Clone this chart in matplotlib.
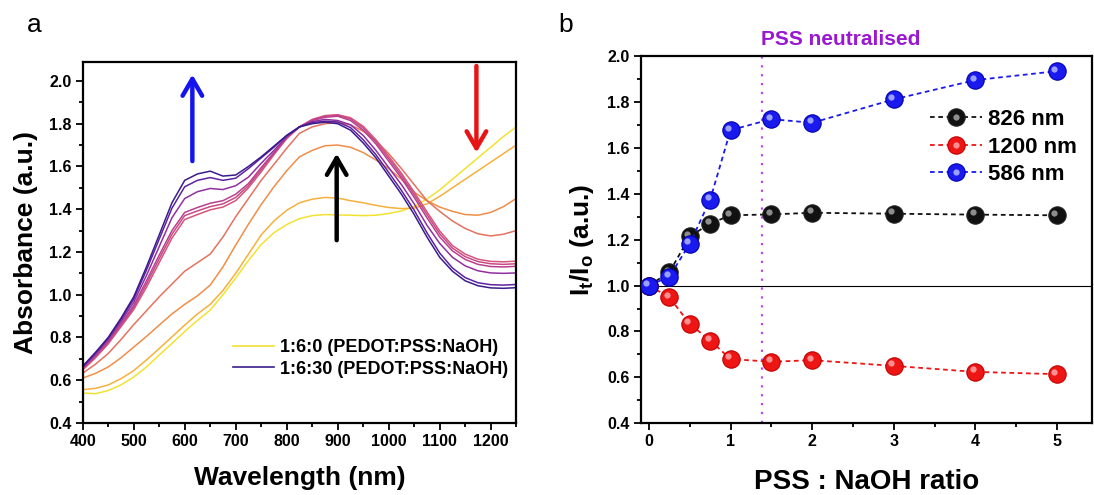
import matplotlib
matplotlib.use('Agg')
import matplotlib.pyplot as plt
import matplotlib.transforms as mtransforms
from matplotlib.ticker import MultipleLocator, FormatStrFormatter
from matplotlib.lines import Line2D
from matplotlib.legend_handler import HandlerTuple

plt.rcParams['font.family'] = ['Liberation Sans', 'DejaVu Sans']
plt.rcParams['font.weight'] = 'bold'
plt.rcParams['mathtext.fontset'] = 'custom'
plt.rcParams['mathtext.rm'] = 'Liberation Sans:bold'
plt.rcParams['mathtext.it'] = 'Liberation Sans:bold'
plt.rcParams['mathtext.bf'] = 'Liberation Sans:bold'

# ---------------- data: panel a ----------------
wavelength = [400, 425, 450, 475, 500, 525, 550, 575, 600, 625, 650, 675, 700, 725,
              750, 775, 800, 825, 850, 875, 900, 925, 950, 975, 1000, 1025, 1050,
              1075, 1100, 1125, 1150, 1175, 1200, 1225, 1250]

spec_01 = [0.540, 0.537, 0.552, 0.578, 0.615, 0.662, 0.718, 0.772, 0.828, 0.880, 0.928, 1.000,
           1.078, 1.160, 1.235, 1.290, 1.328, 1.356, 1.370, 1.375, 1.373, 1.372, 1.370, 1.372,
           1.380, 1.392, 1.413, 1.448, 1.490, 1.540, 1.590, 1.640, 1.690, 1.740, 1.785]
spec_02 = [0.556, 0.562, 0.578, 0.607, 0.645, 0.695, 0.748, 0.803, 0.858, 0.910, 0.955, 1.020,
           1.100, 1.190, 1.280, 1.345, 1.395, 1.430, 1.447, 1.455, 1.452, 1.440, 1.430, 1.418,
           1.408, 1.403, 1.405, 1.425, 1.460, 1.500, 1.540, 1.580, 1.620, 1.660, 1.700]
spec_03 = [0.610, 0.632, 0.662, 0.705, 0.755, 0.805, 0.858, 0.910, 0.955, 0.995, 1.045, 1.130,
           1.232, 1.330, 1.422, 1.505, 1.580, 1.645, 1.675, 1.697, 1.700, 1.690, 1.665, 1.630,
           1.590, 1.540, 1.480, 1.440, 1.410, 1.390, 1.375, 1.372, 1.385, 1.412, 1.450]
spec_04 = [0.633, 0.675, 0.725, 0.790, 0.860, 0.925, 0.990, 1.050, 1.110, 1.150, 1.190, 1.270,
           1.365, 1.450, 1.535, 1.610, 1.685, 1.755, 1.785, 1.800, 1.805, 1.795, 1.765, 1.720,
           1.660, 1.590, 1.515, 1.440, 1.390, 1.345, 1.310, 1.285, 1.275, 1.283, 1.300]
spec_05 = [0.648, 0.705, 0.770, 0.850, 0.930, 1.035, 1.150, 1.265, 1.352, 1.375, 1.397, 1.410,
           1.440, 1.500, 1.575, 1.655, 1.730, 1.785, 1.820, 1.838, 1.842, 1.828, 1.788, 1.725,
           1.648, 1.568, 1.480, 1.388, 1.298, 1.230, 1.190, 1.166, 1.156, 1.154, 1.157]
spec_06 = [0.652, 0.710, 0.776, 0.857, 0.940, 1.050, 1.168, 1.283, 1.370, 1.392, 1.412, 1.425,
           1.455, 1.510, 1.585, 1.660, 1.735, 1.785, 1.818, 1.835, 1.840, 1.822, 1.780, 1.715,
           1.637, 1.557, 1.468, 1.375, 1.285, 1.218, 1.178, 1.155, 1.145, 1.142, 1.145]
spec_07 = [0.655, 0.715, 0.782, 0.865, 0.950, 1.065, 1.185, 1.300, 1.385, 1.408, 1.428, 1.440,
           1.470, 1.520, 1.595, 1.665, 1.735, 1.785, 1.815, 1.830, 1.835, 1.815, 1.770, 1.705,
           1.625, 1.545, 1.455, 1.360, 1.270, 1.205, 1.165, 1.142, 1.132, 1.130, 1.133]
spec_08 = [0.660, 0.722, 0.790, 0.875, 0.965, 1.090, 1.225, 1.360, 1.450, 1.482, 1.497, 1.492,
           1.510, 1.550, 1.615, 1.675, 1.740, 1.785, 1.810, 1.820, 1.815, 1.795, 1.745, 1.675,
           1.595, 1.515, 1.425, 1.325, 1.240, 1.175, 1.135, 1.112, 1.102, 1.100, 1.102]
spec_09 = [0.665, 0.728, 0.797, 0.885, 0.980, 1.115, 1.260, 1.405, 1.505, 1.535, 1.548, 1.535,
           1.545, 1.590, 1.640, 1.690, 1.745, 1.785, 1.805, 1.812, 1.808, 1.782, 1.725, 1.655,
           1.572, 1.488, 1.395, 1.290, 1.195, 1.125, 1.080, 1.056, 1.047, 1.045, 1.048]
spec_10 = [0.665, 0.730, 0.800, 0.890, 0.990, 1.130, 1.280, 1.430, 1.535, 1.565, 1.578, 1.555,
           1.560, 1.600, 1.645, 1.695, 1.745, 1.785, 1.800, 1.807, 1.800, 1.770, 1.710, 1.640,
           1.555, 1.470, 1.375, 1.270, 1.175, 1.110, 1.065, 1.042, 1.032, 1.030, 1.033]

spectra = [spec_01, spec_02, spec_03, spec_04, spec_05, spec_06, spec_07, spec_08, spec_09, spec_10]
spec_colors = ['#f2e230', '#f6b03c', '#f08e48', '#e4725e', '#d4567a', '#c84a86', '#b93f8f',
               '#9030a0', '#5e22a0', '#3a1c8c']
legend_a = ['1:6:0 (PEDOT:PSS:NaOH)', '1:6:30 (PEDOT:PSS:NaOH)']

# ---------------- data: panel b ----------------
ratio = [0, 0.25, 0.5, 0.75, 1, 1.5, 2, 3, 4, 5]
ratio_826 = [1.0, 1.058, 1.214, 1.270, 1.306, 1.310, 1.317, 1.313, 1.309, 1.306]
ratio_1200 = [1.0, 0.949, 0.833, 0.760, 0.680, 0.668, 0.675, 0.650, 0.624, 0.614]
ratio_586 = [1.0, 1.039, 1.182, 1.374, 1.677, 1.725, 1.709, 1.811, 1.895, 1.934]
series_labels = ['826 nm', '1200 nm', '586 nm']
neutral_x = 1.38

# ---------------- figure ----------------
W, H = 1094, 495
fig = plt.figure(figsize=(W / 100, H / 100), dpi=100)

def frac(x0, y_top, x1, y_bot):
    return [x0 / W, 1 - y_bot / H, (x1 - x0) / W, (y_bot - y_top) / H]

axa = fig.add_axes(frac(82.7, 61.7, 516.2, 423.0))
axb = fig.add_axes(frac(640.8, 56.0, 1092.0, 423.3))

def style_axes(ax):
    for s in ax.spines.values():
        s.set_linewidth(1.6)
    ax.tick_params(which='both', direction='out', top=False, right=False, width=1.3,
                   labelsize=11.5, pad=3)
    ax.tick_params(which='major', length=5)
    ax.tick_params(which='minor', length=3)
    for lab in ax.get_xticklabels() + ax.get_yticklabels():
        lab.set_fontweight('bold')

# ---- panel a ----
for s, c in zip(spectra, spec_colors):
    axa.plot(wavelength, s, color=c, lw=1.1)
axa.set_xlim(400, 1250)
axa.set_ylim(0.4, 2.09)
axa.xaxis.set_major_locator(MultipleLocator(100))
axa.xaxis.set_minor_locator(MultipleLocator(50))
axa.yaxis.set_major_locator(MultipleLocator(0.2))
axa.yaxis.set_minor_locator(MultipleLocator(0.1))
axa.yaxis.set_major_formatter(FormatStrFormatter('%.1f'))
style_axes(axa)
axa.set_xlabel('Wavelength (nm)', fontsize=19, fontweight='bold')
axa.set_ylabel('Absorbance (a.u.)', fontsize=19, fontweight='bold')
axa.xaxis.set_label_coords(0.5, -0.118)
axa.yaxis.set_label_coords(-0.103, 0.5)

arrow_kw = dict(arrowstyle='->,head_length=0.55,head_width=0.32', lw=3.2, mutation_scale=22,
                shrinkA=0, shrinkB=0)
axa.annotate('', xy=(615, 2.03), xytext=(615, 1.625), arrowprops=dict(color='#1414f0', **arrow_kw))
axa.annotate('', xy=(898, 1.66), xytext=(898, 1.255), arrowprops=dict(color='black', **arrow_kw))
axa.annotate('', xy=(1172, 1.665), xytext=(1172, 2.07), arrowprops=dict(color='#e81414', **arrow_kw))

ha = [Line2D([], [], color=spec_colors[0], lw=1.2), Line2D([], [], color=spec_colors[-1], lw=1.2)]
axa.legend(ha, legend_a, loc='center left', bbox_to_anchor=((233 - 82.7) / 433.5, 0.1785),
           frameon=False, prop={'weight': 'bold', 'size': 13}, handlelength=2.25,
           handletextpad=0.35, borderpad=0, borderaxespad=0, labelspacing=0.25)

# ---- panel b ----
axb.axhline(1.0, color='black', lw=0.8, zorder=1)
axb.axvline(neutral_x, color='#b548e6', lw=1.6, ls=(0, (1, 3)), zorder=1)

series = [(ratio_826, '#111111', '#9c9c9c', '#222222'),
          (ratio_1200, '#ee1515', '#ffa0a0', '#c00000'),
          (ratio_586, '#1a1aef', '#a8b0ff', '#0000b0')]
hl = mtransforms.offset_copy(axb.transData, fig=fig, x=-2.6, y=2.6, units='dots')
handles = []
for i, (vals, col, light, edge) in enumerate(series):
    ln, = axb.plot(ratio, vals, ls=(0, (2.6, 2.0)), lw=1.3, color=col, marker='o', ms=12.5,
                   markerfacecolor=col, markeredgecolor=edge, markeredgewidth=0.8, zorder=3 + i)
    axb.plot(ratio, vals, ls='none', marker='o', ms=4.5, markerfacecolor=light,
             markeredgecolor='none', alpha=0.9, transform=hl, zorder=3.5 + i)
    hdot = Line2D([], [], ls='none', marker='o', ms=4.5, markerfacecolor=light,
                  markeredgecolor='none', alpha=0.9)
    handles.append((ln, hdot))

axb.set_xlim(-0.1, 5.43)
axb.set_ylim(0.4, 2.0)
axb.xaxis.set_major_locator(MultipleLocator(1))
axb.xaxis.set_minor_locator(MultipleLocator(0.5))
axb.yaxis.set_major_locator(MultipleLocator(0.2))
axb.yaxis.set_minor_locator(MultipleLocator(0.1))
axb.yaxis.set_major_formatter(FormatStrFormatter('%.1f'))
style_axes(axb)
axb.set_xlabel('PSS : NaOH ratio', fontsize=20, fontweight='bold')
axb.set_ylabel(r'I$_{\mathrm{t}}$/I$_{\mathrm{o}}$ (a.u.)', fontsize=19, fontweight='bold')
axb.xaxis.set_label_coords(0.5, -0.125)
axb.yaxis.set_label_coords(-0.099, 0.5)
axb.text(2.35, 1.045, 'PSS neutralised', transform=mtransforms.blended_transform_factory(
    axb.transData, axb.transAxes), ha='center', va='center', fontsize=15, fontweight='bold',
    color='#9a18d2')

axb.legend(handles, series_labels, handler_map={tuple: HandlerTuple(ndivide=1, pad=0)},
           loc='center left', bbox_to_anchor=((930 - 640.8) / 451.2, 0.752), frameon=False,
           prop={'weight': 'bold', 'size': 16}, handlelength=2.35, handletextpad=0.25,
           borderpad=0, borderaxespad=0, labelspacing=0.3, numpoints=1)

fig.text(34 / W, 1 - 25 / H, 'a', fontsize=19, fontweight='normal', ha='center', va='center')
fig.text(566 / W, 1 - 25 / H, 'b', fontsize=19, fontweight='normal', ha='center', va='center')

fig.savefig('out.png', dpi=100)
